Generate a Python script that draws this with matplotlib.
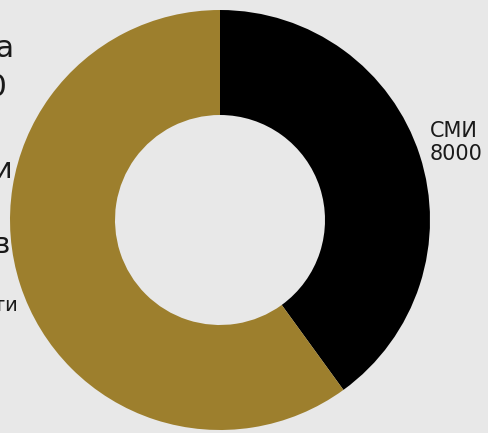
import numpy as np
import matplotlib
matplotlib.use("Agg")
import matplotlib.pyplot as plt

categories = ["СМИ", "Соцсети"]
values = [8000, 12000]
colors = ["#000000", "#9d7f2d"]
side_titles = ["Сумма", "20000"]
side_items = ["Соцсети", "Блогов"]

W, H = 488, 433
plt.rcParams['font.family'] = ['DejaVu Sans']
fig = plt.figure(figsize=(W / 100, H / 100), dpi=100)
fig.patch.set_facecolor("#e8e8e8")
ax = fig.add_axes([0, 0, 1, 1])
ax.set_facecolor("#e8e8e8")

cx, cy, R = 220, H - 220, 210
wedges, _ = ax.pie(values, colors=colors, startangle=90, counterclock=False,
                   center=(cx, cy), radius=R,
                   wedgeprops=dict(width=R / 2, linewidth=0), frame=True)
ax.set_xlim(0, W)
ax.set_ylim(0, H)
ax.set_aspect("equal")
ax.axis("off")

txt = "#1a1a1a"
# slice labels
for w, cat, val in zip(wedges, categories, values):
    mid = np.deg2rad((w.theta1 + w.theta2) / 2)
    d = R * 1.05
    x = cx + d * np.cos(mid)
    y = cy + d * np.sin(mid)
    if np.cos(mid) >= 0:
        ax.text(x, y + 9, f"{cat}\n{val}", ha="left", va="center", fontsize=15,
                color=txt, linespacing=1.2)
    else:
        ax.text(x + 8, y - 22, cat, ha="right", va="baseline", fontsize=14,
                color=txt)

# clipped side texts at left edge
ax.text(14, H - 57, side_titles[0], ha="right", va="baseline", fontsize=22, color=txt)
ax.text(8, H - 96, side_titles[1], ha="right", va="baseline", fontsize=22, color=txt)
ax.text(13, H - 177, side_items[0], ha="right", va="baseline", fontsize=20, color=txt)
ax.text(10, H - 253, side_items[1], ha="right", va="baseline", fontsize=20, color=txt)

fig.savefig("out.png", dpi=100, facecolor=fig.get_facecolor())
